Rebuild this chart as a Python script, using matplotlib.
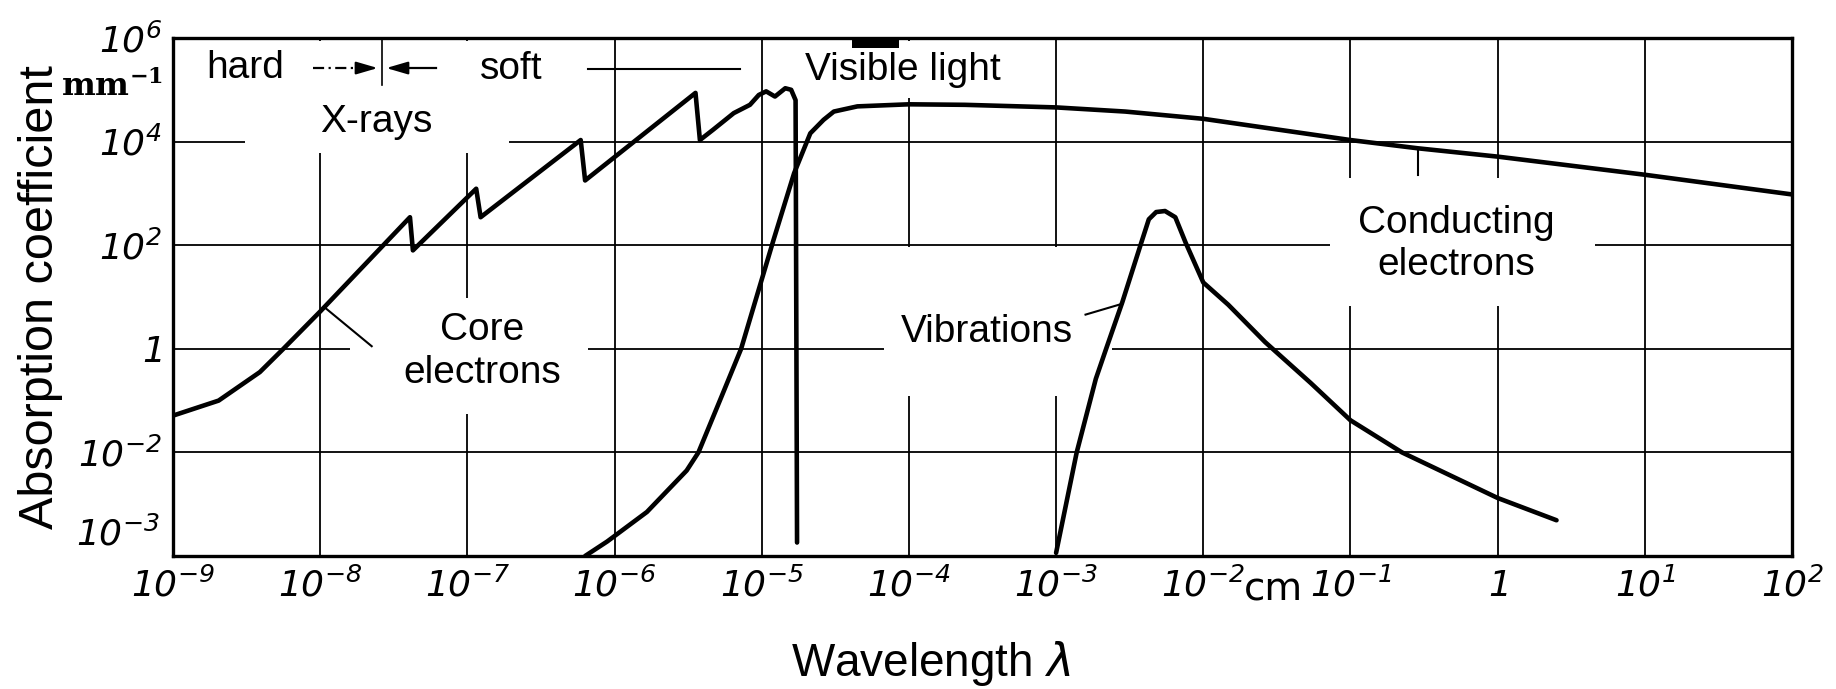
import numpy as np
import matplotlib.pyplot as plt
from matplotlib.patches import Rectangle
from matplotlib.ticker import NullLocator

plt.rcParams['font.family'] = ['Liberation Sans', 'DejaVu Sans']
plt.rcParams['mathtext.fontset'] = 'custom'
plt.rcParams['mathtext.rm'] = 'DejaVu Sans:italic'
plt.rcParams['mathtext.it'] = 'DejaVu Sans:italic'
plt.rcParams['mathtext.bf'] = 'DejaVu Serif:bold'

# values, as log10(wavelength / cm) and log10(coefficient / mm^-1)
core_x = [-9.0, -8.69, -8.41, -8.25, -8.0, -7.39, -7.37, -6.94, -6.91, -6.23, -6.20,
          -5.45, -5.42, -5.33, -5.19, -5.08, -5.02, -4.97, -4.91, -4.84, -4.80, -4.77, -4.76]
core_y = [-1.29, -1.0, -0.45, 0.0, 0.72, 2.54, 1.90, 3.09, 2.54, 4.03, 3.25,
          4.94, 4.03, 4.23, 4.55, 4.71, 4.90, 4.97, 4.87, 5.03, 5.0, 4.8, -3.74]

optic_x = [-6.20, -6.05, -5.78, -5.51, -5.43, -5.27, -5.14, -4.92, -4.78,
           -4.67, -4.58, -4.51, -4.35, -4.0, -3.62, -3.0, -2.53, -2.0, -1.0, -0.54,
           0.0, 1.0, 2.0]
optic_y = [-4.0, -3.72, -3.15, -2.35, -2.0, -0.90, 0.0, 2.10, 3.39,
           4.16, 4.42, 4.58, 4.68, 4.72, 4.71, 4.66, 4.58, 4.44, 4.03, 3.87,
           3.71, 3.36, 2.98]

vib_x = [-3.0, -2.86, -2.73, -2.66, -2.55, -2.43, -2.37, -2.32, -2.26, -2.19, -2.12, -2.0,
         -1.83, -1.58, -1.27, -1.0, -0.65, 0.0, 0.40]
vib_y = [-3.94, -2.0, -0.58, 0.0, 0.9, 1.97, 2.50, 2.64, 2.66, 2.54, 2.05, 1.28,
         0.85, 0.13, -0.66, -1.38, -2.0, -2.88, -3.31]

x_ticks = [-9, -8, -7, -6, -5, -4, -3, -2, -1, 0, 1, 2]
x_labels = ['$10^{-9}$', '$10^{-8}$', '$10^{-7}$', '$10^{-6}$', '$10^{-5}$', '$10^{-4}$',
            '$10^{-3}$', '$10^{-2}$', '$10^{-1}$', '$1$', '$10^{1}$', '$10^{2}$']
y_ticks = [6, 4, 2, 0, -2]
y_labels = ['$10^{6}$', '$10^{4}$', '$10^{2}$', '$1$', '$10^{-2}$']
bottom_label = '$10^{-3}$'


def p(v):
    return np.power(10.0, np.asarray(v, dtype=float))


fig = plt.figure(figsize=(18.36, 6.89), dpi=100)
ax = fig.add_axes([173 / 1836, 1 - 556 / 689, (1792 - 173) / 1836, (556 - 38) / 689])
ax.set_xscale('log')
ax.set_yscale('log')
ax.set_xlim(1e-9, 1e2)
ax.set_ylim(1e-4, 1e6)
ax.set_axisbelow(True)

ax.set_xticks(p(x_ticks))
ax.set_xticklabels(x_labels)
ax.set_yticks(p(y_ticks))
ax.set_yticklabels(y_labels)
ax.xaxis.set_minor_locator(NullLocator())
ax.yaxis.set_minor_locator(NullLocator())
ax.tick_params(length=0, labelsize=26)
ax.tick_params(axis='x', pad=9)
ax.tick_params(axis='y', pad=8)
ax.grid(True, color='black', lw=1.3)
for s in ax.spines.values():
    s.set_linewidth(2.4)

# the bottom label sits a little above the frame in the scan
ax.text(-0.008, 10 ** -3.6, bottom_label, transform=ax.get_yaxis_transform(),
        ha='right', va='center', fontsize=26)

# white patches where the labels sit over the grid
boxes = [(-8.51, -6.72, 3.78, 5.95), (-7.80, -6.18, -1.25, 0.98),
         (-4.17, -2.62, -0.92, 1.97), (-4.70, -3.30, 4.84, 5.95),
         (-1.14, 0.66, 0.82, 3.30)]
for x0, x1, y0, y1 in boxes:
    ax.add_patch(Rectangle((10 ** x0, 10 ** y0), 10 ** x1 - 10 ** x0, 10 ** y1 - 10 ** y0,
                           facecolor='white', edgecolor='none', zorder=1))

curve = dict(color='black', lw=3.3, solid_joinstyle='round', solid_capstyle='round', zorder=3)
ax.plot(p(core_x), p(core_y), **curve)
ax.plot(p(optic_x), p(optic_y), **curve)
ax.plot(p(vib_x), p(vib_y), **curve)

# visible band marker on the top edge
ax.add_patch(Rectangle((10 ** -4.39, 10 ** 5.8), 10 ** -4.07 - 10 ** -4.39, 10 ** 6 - 10 ** 5.8,
                       facecolor='black', edgecolor='none', zorder=4))

# hard / soft x-ray arrows
ax.plot(p([-8.05, -7.70]), p([5.42, 5.42]), color='black', lw=1.6, ls=(0, (5, 2, 1, 2)), zorder=3)
ax.plot(p([-7.45, -7.21]), p([5.42, 5.42]), color='black', lw=1.6, zorder=3)
head = dict(arrowstyle='-|>,head_length=1.3,head_width=0.38', color='black', lw=1.6)
ax.annotate('', xy=(10 ** -7.59, 10 ** 5.42), xytext=(10 ** -7.74, 10 ** 5.42), arrowprops=head)
ax.annotate('', xy=(10 ** -7.57, 10 ** 5.42), xytext=(10 ** -7.42, 10 ** 5.42), arrowprops=head)
ax.plot(p([-7.58, -7.58]), p([6.0, 5.1]), color='black', lw=1.2, zorder=3)
ax.plot(p([-6.18, -5.15]), p([5.40, 5.40]), color='black', lw=1.5, zorder=3)

# pointer lines
ax.plot(p([-7.65, -7.97]), p([0.05, 0.80]), color='black', lw=1.5, zorder=3)
ax.plot(p([-2.80, -2.55]), p([0.66, 0.87]), color='black', lw=1.5, zorder=3)
ax.plot(p([-0.54, -0.54]), p([3.87, 3.36]), color='black', lw=1.5, zorder=3)

txt = dict(fontsize=28, ha='center', va='center', zorder=5)
ax.text(10 ** -8.51, 10 ** 5.43, 'hard', **txt)
ax.text(10 ** -6.70, 10 ** 5.40, 'soft', **txt)
ax.text(10 ** -7.62, 10 ** 4.38, 'X-rays', **txt)
ax.text(10 ** -4.04, 10 ** 5.39, 'Visible light', **txt)
ax.text(10 ** -6.90, 10 ** -0.05, 'Core\nelectrons', linespacing=1.25, **txt)
ax.text(10 ** -3.47, 10 ** 0.32, 'Vibrations', **txt)
ax.text(10 ** -0.28, 10 ** 2.02, 'Conducting\nelectrons', linespacing=1.2, **txt)

ax.text(-0.006, 10 ** 5.07, r'mm$^{\mathbf{-1}}$', transform=ax.get_yaxis_transform(),
        ha='right', va='center', fontsize=23, fontweight='bold', family='DejaVu Serif')
ax.text(10 ** -1.52, -0.085, 'cm', transform=ax.get_xaxis_transform(),
        ha='center', va='baseline', fontsize=28, family='DejaVu Sans')

ax.set_xlabel(r'Wavelength $\lambda$', fontsize=33, va='center')
ax.xaxis.set_label_coords(0.468, -0.207)
ax.set_ylabel('Absorption coefficient', fontsize=35, va='center')
ax.yaxis.set_label_coords(-0.082, 0.5)

fig.savefig('out.png', dpi=100)
